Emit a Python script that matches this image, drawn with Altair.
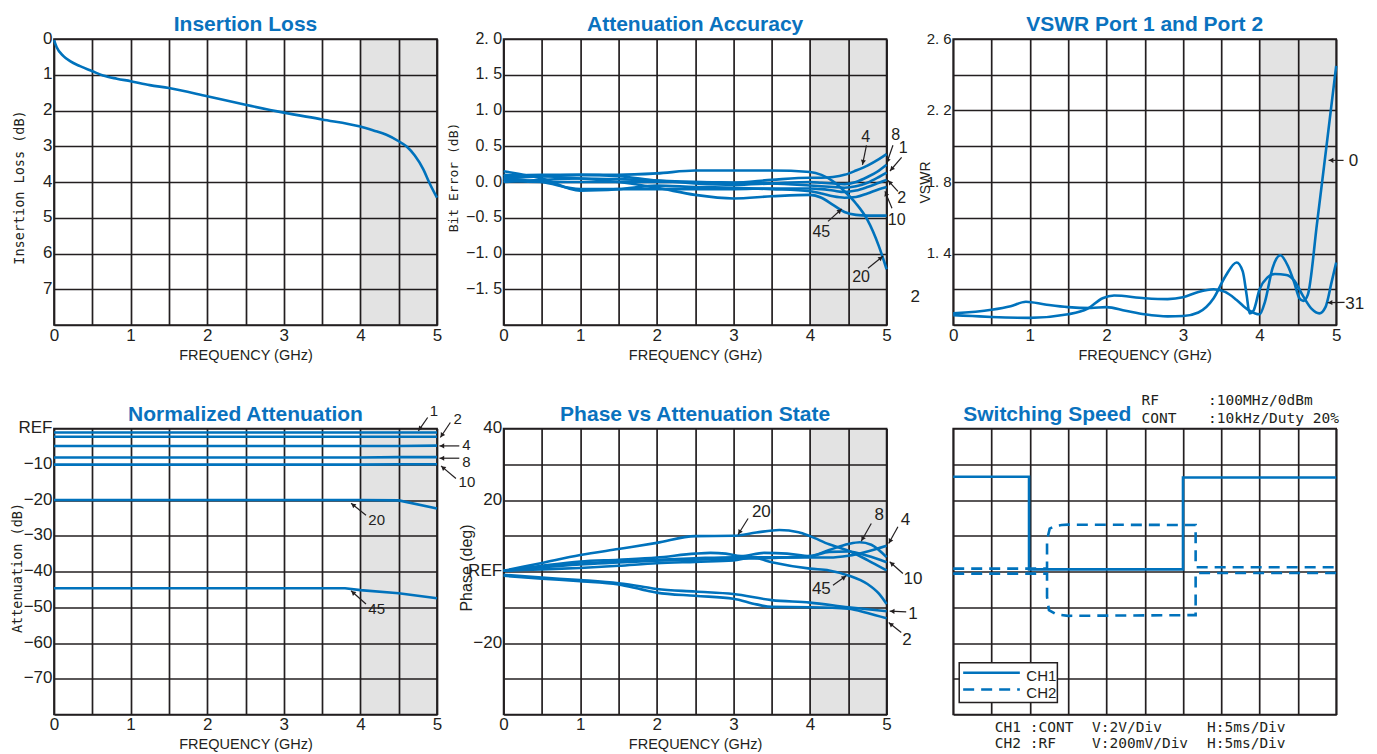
import math
import altair as alt
import pandas as pd

BLUE = "#0072BC"
TITLE_BLUE = "#0A72BE"
INK = "#231F20"
SANS = "Liberation Sans, Arial, sans-serif"
MONO = "DejaVu Sans Mono, Liberation Mono, monospace"
W, H = 383, 286
LINE_W = 2.6
GRID_W = 1.7

FREQ_TICKS = [0, 0.5, 1, 1.5, 2, 2.5, 3, 3.5, 4, 4.5, 5]
SHADE_FROM = [4.0]
SHADE_TO = [5.0]

# ---------------- Insertion Loss ----------------
il_freq = [0, 0.035, 0.12, 0.21, 0.34, 0.5, 0.64, 0.82, 1.0, 1.25, 1.5, 2.0, 2.5, 3.0,
           3.5, 4.0, 4.17, 4.34, 4.5, 4.6, 4.71, 4.82, 4.9, 5.0]
il_loss = [0.03, 0.23, 0.47, 0.62, 0.76, 0.90, 1.02, 1.11, 1.18, 1.29, 1.37, 1.60, 1.84,
           2.06, 2.25, 2.45, 2.56, 2.68, 2.86, 3.0, 3.26, 3.64, 4.02, 4.44]
il_ticks = [0, 1, 2, 3, 4, 5, 6, 7, 8]

# ---------------- Attenuation Accuracy ----------------
acc_freq = [0, 0.5, 1, 1.5, 2, 2.5, 3, 3.5, 4, 4.15, 4.3, 4.45, 4.6, 4.75, 4.9, 5.0]
acc_1 = [0.02, 0.0, 0.0, 0.0, 0.0, 0.0, -0.01, -0.02, -0.05, -0.06, -0.07, -0.08, -0.06, -0.01, 0.07, 0.13]
acc_2 = [0.05, 0.0, -0.1, -0.1, -0.1, -0.1, -0.1, -0.09, -0.09, -0.1, -0.12, -0.14, -0.12, -0.07, -0.01, 0.03]
acc_4 = [0.0, 0.03, 0.05, 0.04, 0.02, 0.0, -0.01, 0.03, 0.06, 0.06, 0.07, 0.1, 0.16, 0.23, 0.32, 0.39]
acc_8 = [0.08, 0.1, 0.1, 0.08, 0.02, -0.02, -0.04, -0.02, 0.0, -0.01, -0.02, -0.03, 0.0, 0.07, 0.16, 0.24]
acc_10 = [0.15, 0.05, -0.12, -0.1, -0.05, -0.07, -0.08, -0.1, -0.13, -0.16, -0.2, -0.22, -0.21, -0.16, -0.1, -0.07]
acc_20 = [0.05, 0.08, 0.1, 0.1, 0.12, 0.16, 0.16, 0.16, 0.14, 0.1, 0.01, -0.13, -0.3, -0.53, -0.9, -1.22]
acc_45 = [0.1, 0.08, 0.05, 0.0, -0.08, -0.18, -0.23, -0.2, -0.18, -0.22, -0.32, -0.42, -0.46, -0.47, -0.47, -0.47]
acc_ticks = [-2, -1.5, -1, -0.5, 0, 0.5, 1, 1.5, 2]
acc_ann_label = ["4", "8", "1", "2", "10", "45", "20"]
acc_ann_lx = [4.727, 5.118, 5.217, 5.196, 5.131, 4.148, 4.666]
acc_ann_ly = [0.625, 0.653, 0.471, -0.228, -0.531, -0.694, -1.323]
acc_ann_tf = [4.737, 5.083, 5.196, 5.148, 5.070, 4.235, 4.757]
acc_ann_tv = [0.513, 0.513, 0.345, -0.130, -0.368, -0.550, -1.207]
acc_ann_hf = [4.685, 5.001, 5.044, 5.018, 4.978, 4.414, 4.952]
acc_ann_hv = [0.241, 0.262, 0.154, 0.024, -0.130, -0.378, -1.039]

# ---------------- VSWR ----------------
vswr0_freq = [0, 0.25, 0.5, 1.0, 1.5, 1.75, 1.95, 2.1, 2.5, 2.8, 3.0, 3.2, 3.4, 3.55, 3.7, 3.85,
              4.0, 4.07, 4.17, 4.27, 4.37, 4.45, 4.52, 4.57, 4.63, 4.75, 4.87, 5.0]
vswr0 = [1.055, 1.05, 1.045, 1.04, 1.06, 1.09, 1.15, 1.165, 1.15, 1.145, 1.155, 1.185, 1.2, 1.185,
         1.14, 1.085, 1.06, 1.13, 1.32, 1.39, 1.33, 1.24, 1.15, 1.135, 1.17, 1.57, 1.99, 2.45]
vswr31_freq = [0, 0.5, 0.75, 0.95, 1.2, 1.5, 1.8, 2.0, 2.25, 2.5, 2.8, 3.0, 3.2, 3.4, 3.55, 3.7,
               3.78, 3.83, 3.87, 3.92, 4.0, 4.1, 4.2, 4.35, 4.45, 4.57, 4.68, 4.78, 4.86, 4.94, 5.0]
vswr31 = [1.065, 1.085, 1.105, 1.13, 1.115, 1.1, 1.095, 1.1, 1.08, 1.06, 1.048, 1.05, 1.07, 1.15,
          1.27, 1.35, 1.3, 1.17, 1.065, 1.08, 1.2, 1.265, 1.285, 1.28, 1.25, 1.16, 1.09, 1.065,
          1.1, 1.24, 1.35]
vswr_ticks = [1.0, 1.2, 1.4, 1.6, 1.8, 2.0, 2.2, 2.4, 2.6]
vswr_ann_label = ["0", "31", "2"]
vswr_ann_lx = [5.226, 5.243, -0.496]
vswr_ann_ly = [1.919, 1.117, 1.155]
vswr_ann_tf = [5.096, 5.109]
vswr_ann_tv = [1.921, 1.127]
vswr_ann_hf = [4.900, 4.887]
vswr_ann_hv = [1.921, 1.125]

# ---------------- Normalized Attenuation ----------------
na_freq = [0, 1, 2, 3, 3.8, 4.0, 4.5, 5.0]
na_1 = [-1.1, -1.1, -1.1, -1.1, -1.1, -1.1, -1.1, -1.1]
na_2 = [-2.3, -2.3, -2.3, -2.3, -2.3, -2.3, -2.3, -2.3]
na_4 = [-4.9, -4.9, -4.9, -4.9, -4.9, -4.9, -4.9, -4.8]
na_8 = [-8.1, -8.1, -8.1, -8.1, -8.1, -8.1, -8.0, -8.0]
na_10 = [-10.1, -10.1, -10.1, -10.1, -10.1, -10.1, -10.0, -10.0]
na_20 = [-20.0, -20.0, -20.0, -20.0, -20.0, -20.0, -20.1, -22.4]
na_45 = [-44.7, -44.7, -44.7, -44.7, -44.7, -45.2, -46.1, -47.5]
na_ticks = [-80, -70, -60, -50, -40, -30, -20, -10, 0]
na_ann_label = ["1", "2", "4", "8", "10", "20", "45"]
na_ann_lx = [4.961, 5.269, 5.383, 5.383, 5.391, 4.213, 4.213]
na_ann_ly = [4.92, 2.6, -4.6, -9.3, -15.1, -25.6, -50.5]
na_ann_tf = [4.878, 5.174, 5.291, 5.291, 5.247, 4.073, 4.073]
na_ann_tv = [3.08, 1.68, -4.87, -8.31, -14.0, -24.25, -49.1]
na_ann_hf = [4.757, 5.044, 5.031, 5.031, 5.052, 3.878, 3.878]
na_ann_hv = [-0.67, -2.52, -4.87, -8.31, -10.46, -20.9, -45.4]

# ---------------- Phase vs Attenuation State ----------------
ph1_freq = [0, 0.5, 1, 1.5, 1.8, 2, 2.5, 3, 3.5, 4, 4.5, 5]
ph1 = [-0.9, -1.7, -2.4, -3.3, -4.2, -4.9, -5.6, -6.3, -8.0, -8.7, -10.0, -11.1]
ph2_freq = [0, 0.5, 1, 1.5, 1.8, 2, 2.5, 3, 3.3, 3.5, 4, 4.5, 4.75, 5]
ph2 = [-1.2, -2.0, -2.7, -3.6, -5.0, -5.9, -6.8, -7.6, -9.2, -9.9, -10.0, -10.4, -11.6, -13.1]
ph4_freq = [0, 0.5, 1, 1.5, 2, 2.5, 3, 3.5, 4, 4.25, 4.5, 4.75, 5]
ph4 = [0.2, 1.4, 2.2, 2.8, 3.3, 3.7, 4.0, 4.0, 3.9, 3.9, 4.4, 5.6, 7.2]
ph8_freq = [0, 0.5, 1, 1.5, 2, 2.5, 3, 3.5, 4, 4.25, 4.5, 4.65, 4.8, 5]
ph8 = [0.2, 1.2, 2.0, 2.5, 3.0, 3.3, 3.6, 3.8, 4.3, 6.0, 7.7, 8.2, 7.5, 4.0]
ph10_freq = [0, 0.5, 1, 1.5, 2, 2.5, 2.7, 2.9, 3.1, 3.4, 3.7, 4, 4.25, 4.5, 4.75, 5]
ph10 = [0.2, 1.6, 2.8, 3.3, 3.9, 5.0, 5.2, 5.0, 4.3, 5.2, 5.0, 4.3, 5.5, 5.6, 4.4, 2.6]
ph20_freq = [0, 0.5, 1, 1.5, 2, 2.5, 3, 3.3, 3.6, 3.85, 4, 4.25, 4.5, 4.75, 5]
ph20 = [0.2, 2.4, 4.6, 6.3, 8.0, 9.9, 10.0, 10.9, 11.6, 11.0, 9.9, 7.6, 5.8, 3.2, 0.3]
ph45_freq = [0, 0.5, 1, 1.5, 2, 2.5, 3, 3.25, 3.5, 4, 4.25, 4.5, 4.75, 4.9, 5]
ph45 = [0.2, 0.6, 1.0, 1.6, 2.3, 2.7, 3.1, 3.9, 2.6, 0.8, 0.3, -1.1, -3.5, -6.2, -9.1]
ph_ticks = [-40, -30, -20, -10, 0, 10, 20, 30, 40]
ph_ann_label = ["20", "8", "4", "10", "45", "1", "2"]
ph_ann_lx = [3.365, 4.904, 5.248, 5.344, 4.148, 5.344, 5.266]
ph_ann_ly = [16.7, 15.75, 14.35, -1.96, -4.76, -11.75, -19.2]
ph_ann_tf = [3.192, 4.800, 5.148, 5.213, 4.300, 5.256, 5.191]
ph_ann_tv = [14.83, 13.43, 12.5, -0.56, -3.83, -11.27, -17.06]
ph_ann_hf = [3.061, 4.669, 5.027, 5.040, 4.474, 5.040, 5.027]
ph_ann_hv = [10.35, 8.48, 7.83, 2.71, -1.2, -11.1, -14.27]

# ---------------- Switching Speed (scope divisions) ----------------
sw_xticks = [0, 1, 2, 3, 4, 5, 6, 7, 8, 9, 10]
sw_yticks = [0, 1, 2, 3, 4, 5, 6, 7, 8]
ch1_x = [0, 1.98, 1.98, 6.0, 6.0, 10]
ch1_y = [6.65, 6.65, 4.06, 4.06, 6.63, 6.63]
ch2u_x = [0, 2.45, 2.45, 2.52, 2.65, 2.83, 3.0, 6.33, 6.33, 10]
ch2u_y = [4.08, 4.08, 4.88, 5.2, 5.27, 5.30, 5.31, 5.30, 4.12, 4.12]
ch2l_x = [0, 2.45, 2.45, 2.50, 2.70, 3.0, 6.33, 6.33, 10]
ch2l_y = [3.94, 3.94, 3.29, 2.92, 2.80, 2.76, 2.78, 3.96, 3.96]
legend_box = dict(f=[0.157], f2=[2.72], v=[0.336], v2=[1.445])
legend_lines_x = [0.26, 1.74]
legend_ch1_y = 1.166
legend_ch2_y = 0.70
legend_text = ["CH1", "CH2"]
legend_text_x = [1.91, 1.91]
legend_text_y = [0.93, 0.45]
sw_note_text = ["RF", ":100MHz/0dBm", "CONT", ":10kHz/Duty 20%",
                "CH1", ":CONT", "V:2V/Div", "H:5ms/Div",
                "CH2", ":RF", "V:200mV/Div", "H:5ms/Div"]
sw_note_x = [4.915, 6.653, 4.915, 6.653,
             1.087, 2.0, 3.626, 6.627,
             1.087, 2.0, 3.626, 6.627]
sw_note_y = [8.652, 8.652, 8.14, 8.14,
             -0.484, -0.484, -0.484, -0.484,
             -0.951, -0.951, -0.951, -0.951]

# ======================================================================
COMMON = dict(ticks=False, domain=False, grid=True, gridColor=INK, gridWidth=GRID_W,
              gridOpacity=1, labelColor=INK, labelFont=SANS, labelFlush=False,
              labelOverlap=False, titleColor=INK, titleFontWeight="normal")


def freq_axis():
    return alt.Axis(values=FREQ_TICKS,
                    labelExpr="datum.value % 1 == 0 ? format(datum.value, 'd') : ''",
                    labelFontSize=17, labelBaseline="top", labelPadding=2,
                    title="FREQUENCY (GHz)", titleFont=SANS, titleFontSize=14.5,
                    titleY=34, titleBaseline="alphabetic", **COMMON)


def value_axis(values, expr, title, tfont, tsize, tx, ty, lsize=17):
    return alt.Axis(values=values, labelExpr=expr, labelFontSize=lsize,
                    labelBaseline="middle", labelPadding=2, labelOffset=-1,
                    title=title, titleFont=tfont, titleFontSize=tsize,
                    titleAngle=270, titleX=tx, titleY=ty, titleAlign="center",
                    titleBaseline="alphabetic", **COMMON)


def scale(dom, reverse=False):
    if reverse:
        return alt.Scale(domain=dom, nice=False, zero=False, reverse=True)
    return alt.Scale(domain=dom, nice=False, zero=False)


def long_frame(series):
    rows = []
    for name, (fs, vs) in series.items():
        for i, (a, b) in enumerate(zip(fs, vs)):
            rows.append({"s": name, "i": i, "f": a, "v": b})
    return pd.DataFrame(rows)


class Panel:
    def __init__(self, xdom, ydom, xaxis, yaxis, reverse=False):
        self.xdom, self.ydom = xdom, ydom
        self.xs = scale(xdom)
        self.ys = scale(ydom, reverse)
        self.xa, self.ya = xaxis, yaxis

    def X(self, field="f"):
        return alt.X(field, type="quantitative", scale=self.xs, axis=self.xa)

    def Y(self, field="v"):
        return alt.Y(field, type="quantitative", scale=self.ys, axis=self.ya)

    def shade(self):
        return alt.Chart(pd.DataFrame({"f": SHADE_FROM, "f2": SHADE_TO})).mark_rect(
            color="black", opacity=0.11
        ).encode(x=self.X(), x2="f2:Q", y=alt.value(0), y2=alt.value(H))

    def curves(self, df, interp="monotone", dash=None):
        kw = dict(color=BLUE, strokeWidth=LINE_W, interpolate=interp)
        if dash:
            kw["strokeDash"] = dash
        return alt.Chart(df).mark_line(**kw).encode(
            x=self.X(), y=self.Y(), detail="s:N", order="i:Q")

    def texts(self, xs_, ys_, labels, font=SANS, size=17, align="center", baseline="middle"):
        return alt.Chart(pd.DataFrame({"f": xs_, "v": ys_, "t": labels})).mark_text(
            font=font, fontSize=size, color=INK, align=align, baseline=baseline
        ).encode(x=self.X(), y=self.Y(), text="t:N")

    def arrows(self, tf, tv, hf, hv):
        rule = alt.Chart(pd.DataFrame({"f": tf, "v": tv, "f2": hf, "v2": hv})).mark_rule(
            color=INK, strokeWidth=1.2
        ).encode(x=self.X(), y=self.Y(), x2="f2:Q", y2="v2:Q")
        sx = W / (self.xdom[1] - self.xdom[0])
        sy = H / (self.ydom[1] - self.ydom[0])
        cf, cv, ang = [], [], []
        for a, b, c, d in zip(tf, tv, hf, hv):
            dx = (c - a) * sx
            dy = -(d - b) * sy
            n = math.hypot(dx, dy)
            ux, uy = dx / n, dy / n
            back = 2.6
            cf.append(c - ux * back / sx)
            cv.append(d + uy * back / sy)
            ang.append(math.degrees(math.atan2(ux, -uy)) % 360)
        head = alt.Chart(pd.DataFrame({"f": cf, "v": cv, "a": ang})).mark_point(
            shape="triangle-up", filled=True, size=26, color=INK, opacity=1
        ).encode(x=self.X(), y=self.Y(), angle=alt.Angle("a:Q", scale=None))
        return [rule, head]


def title_mark(text, x=W / 2, align="center"):
    return alt.Chart(pd.DataFrame({"t": [text]})).mark_text(
        font=SANS, fontSize=21, fontWeight="bold", color=TITLE_BLUE,
        align=align, baseline="alphabetic"
    ).encode(x=alt.value(x), y=alt.value(-8), text="t:N")


# ---------------- Panel 1 ----------------
P = Panel([0, 5], [0, 8], freq_axis(),
          value_axis(il_ticks, "datum.value < 8 ? format(datum.value, 'd') : ''",
                     "Insertion Loss (dB)", MONO, 13.5, -30.5, 148), reverse=True)
p1 = alt.layer(
    P.shade(),
    P.curves(long_frame({"IL": (il_freq, il_loss)})),
    title_mark("Insertion Loss"),
).properties(width=W, height=H)

# ---------------- Panel 2 ----------------
P = Panel([0, 5], [-2, 2], freq_axis(),
          value_axis(acc_ticks,
                     "datum.value <= -2 ? '' : replace(format(datum.value, '.1f'), '.', '. ')",
                     "Bit Error (dB)", MONO, 13, -46, 138, lsize=16))
acc_series = {k: (acc_freq, v) for k, v in
              [("1", acc_1), ("2", acc_2), ("4", acc_4), ("8", acc_8),
               ("10", acc_10), ("20", acc_20), ("45", acc_45)]}
p2 = alt.layer(
    P.shade(),
    P.curves(long_frame(acc_series)),
    *P.arrows(acc_ann_tf, acc_ann_tv, acc_ann_hf, acc_ann_hv),
    P.texts(acc_ann_lx, acc_ann_ly, acc_ann_label, size=16),
    title_mark("Attenuation Accuracy"),
).properties(width=W, height=H)

# ---------------- Panel 3 ----------------
P = Panel([0, 5], [1.0, 2.6], freq_axis(),
          value_axis(vswr_ticks,
                     "(datum.value > 1.3 && abs((datum.value * 10) % 4 - 2) < 0.01) ? replace(format(datum.value, '.1f'), '.', '. ') : ''",
                     "VSWR", SANS, 14, -23.5, 143, lsize=15))
p3 = alt.layer(
    P.shade(),
    P.curves(long_frame({"0": (vswr0_freq, vswr0), "31": (vswr31_freq, vswr31)})),
    *P.arrows(vswr_ann_tf, vswr_ann_tv, vswr_ann_hf, vswr_ann_hv),
    P.texts(vswr_ann_lx, vswr_ann_ly, vswr_ann_label),
    title_mark("VSWR Port 1 and Port 2"),
).properties(width=W, height=H)

# ---------------- Panel 4 ----------------
P = Panel([0, 5], [-80, 0], freq_axis(),
          value_axis(na_ticks,
                     "datum.value == 0 ? 'REF' : (datum.value <= -80 ? '' : format(datum.value, 'd'))",
                     "Attenuation (dB)", MONO, 13.5, -32.5, 139))
na_series = {k: (na_freq, v) for k, v in
             [("1", na_1), ("2", na_2), ("4", na_4), ("8", na_8),
              ("10", na_10), ("20", na_20), ("45", na_45)]}
p4 = alt.layer(
    P.shade(),
    P.curves(long_frame(na_series), interp="linear"),
    *P.arrows(na_ann_tf, na_ann_tv, na_ann_hf, na_ann_hv),
    P.texts(na_ann_lx, na_ann_ly, na_ann_label, size=15),
    title_mark("Normalized Attenuation"),
).properties(width=W, height=H)

# ---------------- Panel 5 ----------------
P = Panel([0, 5], [-40, 40], freq_axis(),
          value_axis(ph_ticks,
                     "datum.value == 0 ? 'REF' : ((datum.value == 40 || datum.value == 20 || datum.value == -20) ? format(datum.value, 'd') : '')",
                     "Phase (deg)", SANS, 16, -32, 139))
ph_series = {"1": (ph1_freq, ph1), "2": (ph2_freq, ph2), "4": (ph4_freq, ph4),
             "8": (ph8_freq, ph8), "10": (ph10_freq, ph10), "20": (ph20_freq, ph20),
             "45": (ph45_freq, ph45)}
p5 = alt.layer(
    P.shade(),
    P.curves(long_frame(ph_series)),
    *P.arrows(ph_ann_tf, ph_ann_tv, ph_ann_hf, ph_ann_hv),
    P.texts(ph_ann_lx, ph_ann_ly, ph_ann_label),
    title_mark("Phase vs Attenuation State"),
).properties(width=W, height=H)

# ---------------- Panel 6 ----------------
grid_only = dict(ticks=False, domain=False, grid=True, gridColor=INK, gridWidth=GRID_W,
                 gridOpacity=1, labels=False, title=None)
P = Panel([0, 10], [0, 8], alt.Axis(values=sw_xticks, **grid_only),
          alt.Axis(values=sw_yticks, **grid_only))
leg_box = alt.Chart(pd.DataFrame(legend_box)).mark_rect(
    fill="white", stroke=INK, strokeWidth=1.5
).encode(x=P.X(), x2="f2:Q", y=P.Y(), y2="v2:Q")
p6 = alt.layer(
    P.curves(long_frame({"U": (ch2u_x, ch2u_y), "L": (ch2l_x, ch2l_y)}), interp="linear",
             dash=[11, 7]),
    P.curves(long_frame({"CH1": (ch1_x, ch1_y)}), interp="linear"),
    leg_box,
    P.curves(long_frame({"a": (legend_lines_x, [legend_ch1_y, legend_ch1_y])}), interp="linear"),
    P.curves(long_frame({"b": (legend_lines_x, [legend_ch2_y, legend_ch2_y])}), interp="linear",
             dash=[11, 7]),
    P.texts(legend_text_x, legend_text_y, legend_text, size=15, align="left",
            baseline="alphabetic"),
    P.texts(sw_note_x, sw_note_y, sw_note_text, font=MONO, size=14.5, align="left",
            baseline="alphabetic"),
    title_mark("Switching Speed", x=10, align="left"),
).properties(width=W, height=H)

chart = alt.concat(
    p1, p2, p3, p4, p5, p6, columns=3,
    spacing={"row": 103.5, "column": 66.6}, bounds="flush"
).configure_view(stroke=INK, strokeWidth=GRID_W).properties(
    padding={"left": 1, "top": 5, "right": 0, "bottom": 0}
)

chart.save("out.html", embed_options={"renderer": "svg", "actions": False})
